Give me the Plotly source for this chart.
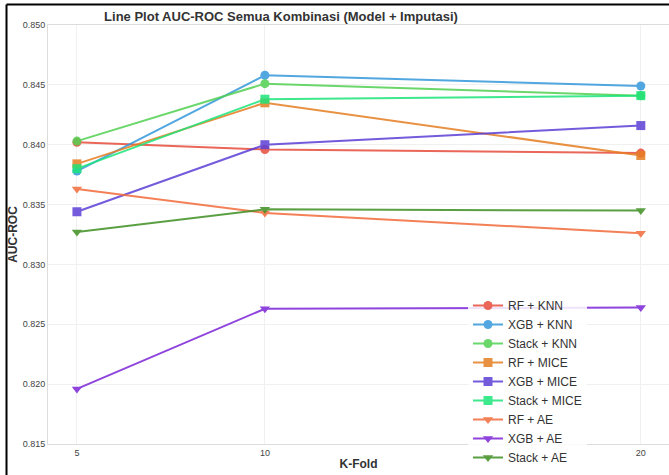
import plotly.graph_objects as go

k_folds = [5, 10, 20]

series_names = ["RF + KNN", "XGB + KNN", "Stack + KNN",
                "RF + MICE", "XGB + MICE", "Stack + MICE",
                "RF + AE", "XGB + AE", "Stack + AE"]

rf_knn = [0.8402, 0.8396, 0.8393]
xgb_knn = [0.8378, 0.8458, 0.8449]
stack_knn = [0.8403, 0.8451, 0.8441]
rf_mice = [0.8384, 0.8435, 0.8391]
xgb_mice = [0.8344, 0.8400, 0.8416]
stack_mice = [0.8380, 0.8438, 0.8441]
rf_ae = [0.8363, 0.8343, 0.8326]
xgb_ae = [0.8196, 0.8263, 0.8264]
stack_ae = [0.8327, 0.8346, 0.8345]

all_values = [rf_knn, xgb_knn, stack_knn, rf_mice, xgb_mice, stack_mice,
              rf_ae, xgb_ae, stack_ae]

colors = ["#e74c3c", "#3498db", "#52d152",
          "#e67e22", "#5b3fd6", "#1de57a",
          "#f26b3a", "#7b24d8", "#3f8f23"]
symbols = ["circle", "circle", "circle",
           "square", "square", "square",
           "triangle-down", "triangle-down", "triangle-down"]

y_ticks = [0.815, 0.820, 0.825, 0.830, 0.835, 0.840, 0.845, 0.850]

FONT = "Liberation Sans, Arial, sans-serif"

fig = go.Figure()
for name, vals, col, sym in zip(series_names, all_values, colors, symbols):
    fig.add_trace(go.Scatter(
        x=k_folds, y=vals, mode="lines+markers", name=name,
        line=dict(color=col, width=2),
        marker=dict(color=col, symbol=sym, size=9),
        opacity=0.85,
    ))

W, H = 669, 475
L, R, T, B = 48, 0, 25, 31
pw, ph = W - L - R, H - T - B

def px_x(p):
    return (p - L) / pw

def px_y(p):
    return (H - B - p) / ph

fig.update_layout(
    width=W, height=H,
    margin=dict(l=L, r=R, t=T, b=B, autoexpand=False),
    paper_bgcolor="white", plot_bgcolor="white",
    font=dict(family=FONT, color="#444"),
    title=dict(text="<b>Line Plot AUC-ROC Semua Kombinasi (Model + Imputasi)</b>",
               x=px_x(281), xref="paper", xanchor="center",
               y=1 - 16 / H, yanchor="middle",
               font=dict(size=13, color="#333", family=FONT)),
    xaxis=dict(range=[4.23, 20.75], tickvals=k_folds, ticktext=[str(k) for k in k_folds],
               showgrid=True, gridcolor="#f0f0f0", showline=True, linecolor="#dcdcdc",
               mirror=True, zeroline=False, tickfont=dict(size=9, color="#444"),
               automargin=False,
               title=dict(text="<b>K-Fold</b>", font=dict(size=12, color="#333"), standoff=2)),
    yaxis=dict(range=[0.815, 0.850], tickvals=y_ticks, tickformat=".3f",
               showgrid=True, gridcolor="#f0f0f0", showline=True, linecolor="#dcdcdc",
               mirror=True, zeroline=False, tickfont=dict(size=9, color="#444"),
               automargin=False,
               title=dict(text="<b>AUC-ROC</b>", font=dict(size=12, color="#333"), standoff=2)),
    legend=dict(x=px_x(468), xanchor="left", y=px_y(472), yanchor="bottom",
                bgcolor="rgba(255,255,255,0.85)", font=dict(size=12, color="#333"),
                tracegroupgap=0),
    showlegend=True,
)

# screenshot frame lines
fig.add_shape(type="line", xref="paper", yref="paper",
              x0=px_x(6.5), x1=px_x(W), y0=px_y(4.5), y1=px_y(4.5),
              line=dict(color="black", width=2))
fig.add_shape(type="line", xref="paper", yref="paper",
              x0=px_x(6.5), x1=px_x(6.5), y0=px_y(4.5), y1=px_y(H),
              line=dict(color="black", width=2))

fig.write_html("out.html", config={"displayModeBar": False},
               post_script="document.body.style.margin='0';")
